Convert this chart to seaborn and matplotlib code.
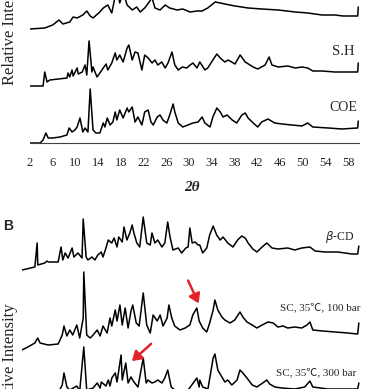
import matplotlib
matplotlib.use("Agg")
import matplotlib.pyplot as plt
import pandas as pd
import seaborn as sns

# ---- panel A traces (2theta, relative intensity) ----
pm_theta = [2.0, 4.6, 6.0, 7.1, 7.8, 9.0, 9.6, 10.3, 11.3, 12.0, 12.6, 13.1, 14.3, 14.9, 15.7,
            16.4, 17.3, 17.8, 18.4, 19.1, 20.0, 20.8, 21.4, 22.2, 23.5, 24.0, 24.9, 25.8, 26.6,
            27.9, 28.9, 30.2, 31.4, 32.3, 33.3, 34.6, 35.5, 36.3, 38.1, 40.4, 42.8, 45.7, 48.7,
            50.9, 53.4, 55.7, 57.1, 59.2, 59.7, 59.8]
pm_int = [1, 2, 5, 10, 6, 8, 13, 12, 15, 19, 14, 12, 18, 22, 25,
          17, 42, 27, 38, 25, 20, 23, 18, 22, 32, 22, 20, 25, 22,
          20, 21, 18, 19, 19, 22, 28, 27, 26, 24, 22, 21, 20, 18,
          17, 15, 15, 14, 14, 14, 23]

sh_theta = [2.0, 4.3, 4.6, 5.0, 5.5, 8.5, 8.7, 9.0, 9.4, 9.6, 10.3, 10.5, 11.2, 11.7, 12.0,
            12.4, 12.9, 13.1, 13.8, 14.3, 14.9, 15.4, 15.7, 16.4, 17.0, 17.3, 17.8, 18.4, 19.1,
            19.4, 20.0, 20.5, 21.0, 21.7, 22.2, 22.8, 23.5, 24.0, 24.5, 25.2, 25.8, 26.3, 27.0,
            27.5, 28.1, 28.8, 29.6, 30.2, 30.7, 31.4, 31.9, 32.8, 33.3, 34.2, 34.9, 35.5, 36.3,
            36.9, 38.1, 39.0, 39.9, 41.3, 42.1, 43.4, 44.1, 44.6, 45.7, 47.4, 48.7, 49.9, 50.9,
            51.8, 53.4, 55.7, 58.0, 59.6, 59.7, 59.8]
sh_int = [1, 1, 15, 5, 7, 9, 14, 10, 17, 11, 19, 13, 15, 22, 12,
          46, 15, 20, 10, 14, 19, 23, 17, 24, 34, 27, 32, 25, 39,
          42, 27, 35, 34, 17, 32, 29, 24, 27, 22, 25, 19, 24, 35,
          22, 17, 20, 19, 22, 24, 19, 25, 17, 19, 27, 33, 29, 25,
          27, 23, 32, 25, 20, 18, 22, 30, 22, 20, 21, 19, 20, 19,
          16, 16, 15, 15, 15, 15, 24]

coe_theta = [2.0, 3.8, 4.3, 4.8, 5.2, 6.0, 7.3, 8.5, 8.9, 9.4, 9.9, 10.3, 10.8, 11.3, 11.7,
             12.2, 12.6, 13.1, 13.6, 14.3, 14.9, 15.2, 15.6, 16.1, 16.6, 17.0, 17.3, 17.8, 18.4,
             19.1, 19.4, 20.0, 20.5, 21.0, 21.7, 22.2, 22.8, 23.3, 23.7, 24.4, 24.9, 25.4, 26.1,
             26.6, 27.2, 27.5, 28.1, 28.9, 29.8, 30.7, 31.6, 32.3, 32.8, 33.7, 34.2, 34.9, 35.5,
             36.0, 36.7, 37.6, 38.4, 39.3, 39.9, 40.4, 41.3, 42.1, 42.8, 43.9, 45.1, 46.4, 48.1,
             49.9, 50.9, 51.8, 54.5, 56.9, 59.6, 59.7, 59.8]
coe_int = [0, 0, 3, 10, 5, 5, 6, 8, 15, 11, 13, 16, 25, 11, 15,
           11, 54, 13, 10, 10, 20, 16, 25, 18, 21, 31, 23, 33, 25,
           35, 31, 36, 21, 26, 18, 31, 33, 21, 18, 26, 28, 23, 20,
           28, 39, 31, 20, 16, 18, 20, 21, 26, 20, 16, 26, 35, 31,
           26, 28, 23, 20, 28, 30, 25, 20, 16, 21, 24, 20, 19, 18,
           17, 20, 16, 15, 14, 15, 15, 22]

# ---- panel B traces ----
cd_theta = [2.0, 4.2, 4.6, 4.7, 5.9, 6.3, 6.5, 8.2, 8.7, 9.0, 9.4, 9.9, 10.6, 10.9, 11.6,
            12.3, 12.5, 13.0, 13.3, 14.0, 14.5, 15.0, 15.6, 15.9, 16.4, 16.8, 17.4, 17.8, 18.3,
            18.6, 19.2, 19.5, 20.0, 20.5, 20.9, 21.2, 21.7, 22.2, 22.8, 23.4, 24.0, 24.3, 24.8,
            25.3, 26.0, 26.5, 27.0, 27.4, 27.9, 28.8, 29.4, 30.1, 30.5, 30.8, 31.2, 31.7, 32.2,
            32.5, 33.0, 33.7, 34.2, 34.8, 35.4, 36.0, 36.5, 37.3, 38.2, 39.0, 39.7, 40.3, 40.8,
            41.6, 42.3, 43.2, 44.0, 44.9, 45.9, 47.6, 48.8, 50.0, 51.4, 52.3, 54.0, 56.2, 58.6,
            59.6, 59.8]
cd_int = [1, 4, 28, 6, 8, 10, 9, 9, 24, 11, 18, 13, 23, 14, 18,
          13, 52, 14, 11, 14, 11, 16, 19, 14, 23, 31, 28, 33, 24,
          34, 29, 44, 31, 38, 46, 38, 28, 24, 54, 28, 26, 38, 28,
          31, 24, 28, 49, 34, 21, 23, 18, 23, 24, 43, 28, 29, 26,
          26, 18, 23, 36, 45, 36, 31, 34, 28, 24, 31, 35, 33, 28,
          22, 19, 24, 28, 23, 22, 23, 21, 23, 24, 20, 19, 19, 17,
          17, 25]

sc100_theta = [2.0, 3.0, 4.2, 4.7, 5.1, 6.5, 8.2, 8.9, 9.2, 9.7, 10.2, 10.7, 11.4, 11.9, 12.5,
               12.6, 13.1, 13.7, 14.2, 14.9, 15.4, 15.9, 16.6, 17.1, 17.4, 18.0, 18.3, 18.8, 19.2,
               19.7, 20.2, 20.7, 21.0, 21.6, 22.1, 22.8, 23.4, 24.0, 24.5, 25.2, 25.7, 26.2, 26.9,
               27.2, 27.7, 28.2, 29.1, 30.0, 30.8, 31.3, 32.0, 32.4, 33.0, 33.7, 34.2, 34.8, 35.1,
               35.6, 36.3, 36.8, 37.7, 38.5, 39.4, 39.9, 40.6, 41.5, 42.3, 43.2, 44.2, 45.1, 45.9,
               46.8, 47.6, 48.8, 50.0, 50.9, 51.4, 51.9, 53.6, 55.7, 57.9, 59.5, 59.6, 59.8]
sc100_int = [1, 4, 8, 13, 8, 6, 7, 16, 25, 15, 21, 16, 26, 13, 33,
             79, 16, 13, 16, 21, 15, 25, 18, 33, 25, 41, 30, 46, 26,
             43, 23, 40, 46, 28, 25, 58, 26, 18, 36, 30, 36, 25, 33,
             46, 33, 25, 21, 23, 26, 36, 43, 30, 23, 19, 28, 41, 51,
             41, 34, 31, 28, 31, 39, 34, 29, 26, 23, 26, 29, 28, 24,
             25, 23, 24, 23, 26, 29, 21, 20, 19, 18, 17, 17, 28]

sc300_theta = [2.0, 4.2, 6.5, 8.2, 8.9, 9.2, 9.7, 10.2, 11.4, 11.9, 12.6, 13.1, 14.2, 14.9, 15.4,
               15.6, 16.4, 16.8, 17.1, 17.4, 18.0, 18.3, 19.0, 19.2, 19.8, 20.2, 20.7, 21.2, 21.9,
               22.8, 23.3, 23.6, 24.3, 24.8, 25.3, 26.0, 26.5, 27.0, 27.6, 28.2, 30.5, 32.0, 32.4,
               32.5, 33.0, 33.9, 34.8, 35.1, 35.6, 36.3, 36.8, 37.3, 38.0, 38.9, 39.4, 39.9, 40.6,
               41.5, 42.3, 43.3, 44.0, 44.5, 45.4, 46.6, 48.8, 50.5, 51.4, 51.9, 54.5, 57.4, 59.6,
               59.8]
sc300_int = [0, 2, 1, 2, 10, 22, 8, 5, 9, 4, 48, 5, 7, 12, 7,
             13, 9, 15, 9, 17, 22, 13, 40, 15, 32, 12, 18, 13, 8,
             37, 12, 15, 12, 13, 15, 12, 17, 25, 8, 5, 5, 17, 8,
             15, 8, 6, 37, 41, 25, 18, 13, 15, 10, 15, 25, 22, 17,
             10, 8, 12, 15, 11, 8, 7, 6, 8, 14, 8, 6, 6, 6,
             12]

panel_a = [("P.M", pm_theta, pm_int, 113), ("S.H", sh_theta, sh_int, 56), ("COE", coe_theta, coe_int, 0)]
panel_b = [(cd_theta, cd_int, 159), (sc100_theta, sc100_int, 79), (sc300_theta, sc300_int, 35)]
ticks = list(range(2, 60, 4))

sns.set_style("white")
plt.rcParams["font.family"] = ["Liberation Serif", "Noto Sans CJK SC", "DejaVu Sans"]

fig = plt.figure(figsize=(3.89, 3.89), dpi=100)

# panel A (top part cropped away in the reference)
axa = fig.add_axes([0.0771, 0.6324, 0.8468, 0.4833])
for name, th, it, off in panel_a:
    df = pd.DataFrame({"theta": th, "y": [v + off for v in it]})
    sns.lineplot(data=df, x="theta", y="y", ax=axa, color="black", lw=1.1,
                 sort=False, estimator=None)
axa.set_xlim(2, 60)
axa.set_ylim(0, 188)
axa.set_xticks(ticks)
axa.set_yticks([])
axa.set_ylabel("")
axa.set_xlabel("2θ", fontsize=11, fontweight="bold", fontstyle="italic")
axa.xaxis.set_label_coords(0.492, -0.2)
axa.tick_params(axis="x", direction="in", length=3, width=0.7, pad=10, labelsize=9,
                color="#404040")
for s in ["top", "left", "right"]:
    axa.spines[s].set_visible(False)
axa.spines["bottom"].set_color("#404040")
axa.spines["bottom"].set_linewidth(0.8)
axa.text(59.2, 146, "P.M", ha="right", va="center", fontsize=10)
axa.text(59.2, 91, "S.H", ha="right", va="center", fontsize=10.5)
axa.text(59.7, 35, "COE", ha="right", va="center", fontsize=10)

# panel B (bottom part cropped away in the reference)
axb = fig.add_axes([0.0566, -0.1054, 0.8689, 0.5784])
for th, it, off in panel_b:
    df = pd.DataFrame({"theta": th, "y": [v + off for v in it]})
    sns.lineplot(data=df, x="theta", y="y", ax=axb, color="black", lw=1.1,
                 sort=False, estimator=None)
axb.set_xlim(2, 60)
axb.set_ylim(0, 225)
axb.axis("off")
axb.text(59.1, 193, r"$\it{\beta}$-CD", ha="right", va="center", fontsize=8.5)
axb.text(60.1, 123, "SC, 35℃, 100 bar", ha="right", va="center", fontsize=8)
axb.text(59.3, 58, "SC, 35℃, 300 bar", ha="right", va="center", fontsize=8)
arrow = dict(arrowstyle="-|>,head_length=0.55,head_width=0.35", color="#e3232a", lw=1.8)
axb.annotate("", xy=(32.5, 124), xytext=(30.3, 152), arrowprops=arrow)
axb.annotate("", xy=(20.5, 67), xytext=(24.5, 88), arrowprops=arrow)

fig.text(8 / 389, 0.419, "B", fontsize=10, fontweight="bold", family="Liberation Sans",
         ha="center", va="center")
fig.text(10 / 389, 0.933, "Relative Intensity", rotation=90, fontsize=12,
         ha="center", va="center")
fig.text(10 / 389, 0.069, "Relative Intensity", rotation=90, fontsize=12,
         ha="center", va="center")

fig.savefig("out.png", dpi=100)
